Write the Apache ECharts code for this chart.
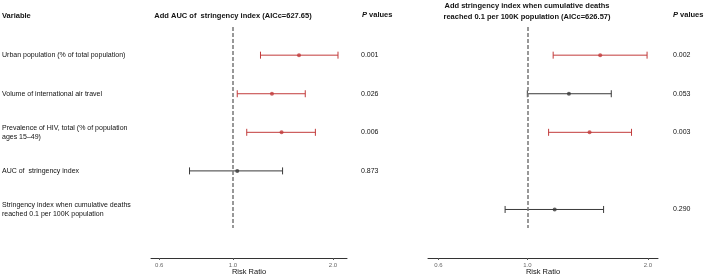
<!DOCTYPE html>
<html>
<head>
<meta charset="utf-8">
<script src="https://cdn.jsdelivr.net/npm/echarts@6/dist/echarts.min.js"></script>
<style>
  html, body { margin: 0; padding: 0; background: #fff; }
  #forest { width: 706px; height: 276px; }
</style>
</head>
<body>
<div id="forest"></div>
<script>
var variables = [
    'Urban population (% of total population)',
    'Volume of international air travel',
    'Prevalence of HIV, total (% of population\nages 15\u201349)',
    'AUC of  stringency index',
    'Stringency index when cumulative deaths\nreached 0.1 per 100K population'
];

// left model: add AUC of stringency index
var leftRR = [1.58, 1.31, 1.40, 1.03, null];
var leftLo = [1.21, 1.03, 1.10, 0.74, null];
var leftHi = [2.07, 1.65, 1.77, 1.41, null];
var leftP  = ['0.001', '0.026', '0.006', '0.873', ''];

// right model: add stringency index when deaths reached 0.1/100K
var rightRR = [1.52, 1.27, 1.43, null, 1.17];
var rightLo = [1.16, 1.00, 1.13, null, 0.88];
var rightHi = [1.99, 1.62, 1.82, null, 1.55];
var rightP  = ['0.002', '0.053', '0.003', '', '0.290'];

var tickValues = [0.6, 1.0, 2.0];

var RED = '#c23b3b';
var DARK = '#3a3a3a';
var FONT = 'Liberation Sans';

function colorFor(p) {
    return parseFloat(p) < 0.05 ? RED : DARK;
}

function barData(rr, lo, hi, p) {
    var out = [];
    for (var i = 0; i < rr.length; i++) {
        if (rr[i] == null) continue;
        out.push({
            value: [Math.log(lo[i]), Math.log(hi[i]), Math.log(rr[i]), i + 1],
            itemStyle: { color: colorFor(p[i]) }
        });
    }
    return out;
}

function pointData(rr, p) {
    var out = [];
    for (var i = 0; i < rr.length; i++) {
        if (rr[i] == null) continue;
        out.push({ value: [Math.log(rr[i]), i + 1], itemStyle: { color: colorFor(p[i]) } });
    }
    return out;
}

function renderBar(params, api) {
    var y = api.value(3);
    var a = api.coord([api.value(0), y]);
    var b = api.coord([api.value(1), y]);
    var c = api.visual('color');
    var cap = 3.5;
    var st = { stroke: c, lineWidth: 1 };
    return {
        type: 'group',
        children: [
            { type: 'line', shape: { x1: a[0], y1: a[1], x2: b[0], y2: b[1] }, style: st },
            { type: 'line', shape: { x1: a[0], y1: a[1] - cap, x2: a[0], y2: a[1] + cap }, style: st },
            { type: 'line', shape: { x1: b[0], y1: b[1] - cap, x2: b[0], y2: b[1] + cap }, style: st }
        ]
    };
}

var rows = [1, 2, 3, 4, 5];
var lnTicks = tickValues.map(function (v) { return Math.log(v); });

function xAxisFor(gridIndex, min, max) {
    return {
        type: 'value', gridIndex: gridIndex, min: min, max: max, offset: 30,
        name: 'Risk Ratio', nameLocation: 'middle', nameGap: 10, nameMoveOverlap: false,
        nameTextStyle: { fontFamily: FONT, fontSize: 7.5, color: '#111' },
        axisLine: { show: true, lineStyle: { color: '#333', width: 1 } },
        axisTick: { show: true, customValues: lnTicks, length: 2, lineStyle: { color: '#555' } },
        axisLabel: {
            customValues: lnTicks, margin: 4, fontFamily: FONT, fontSize: 6, color: '#666',
            formatter: function (v) { return Math.exp(v).toFixed(1); }
        },
        splitLine: { show: false }
    };
}

function yAxisFor(gridIndex, position, labels, margin, fontSize) {
    return {
        type: 'value', gridIndex: gridIndex, position: position, inverse: true,
        min: 0.27, max: 5.48,
        axisLine: { show: false }, axisTick: { show: false }, splitLine: { show: false },
        axisLabel: {
            show: labels != null,
            customValues: rows, align: 'left', margin: margin,
            fontFamily: FONT, fontSize: fontSize, color: '#111', lineHeight: 9,
            formatter: function (v) { return labels ? (labels[Math.round(v) - 1] || '') : ''; }
        }
    };
}

var refLine = {
    silent: true, symbol: 'none', label: { show: false },
    lineStyle: { type: [4, 2], color: '#777', width: 1.5 },
    data: [{ xAxis: 0 }]
};

var headStyle = {
    rich: {
        i: { fontFamily: FONT, fontSize: 7.5, fontWeight: 'bold', fontStyle: 'italic', color: '#111' },
        b: { fontFamily: FONT, fontSize: 7.5, fontWeight: 'bold', color: '#111' }
    }
};
var boldText = { fontFamily: FONT, fontSize: 7.5, fontWeight: 'bold', color: '#111', lineHeight: 11 };

var myChart = echarts.init(document.getElementById('forest'), null, { renderer: 'canvas' });

var option = {
    animation: false,
    backgroundColor: '#fff',
    title: [
        { text: 'Variable', left: 2, top: 10, padding: 0, textStyle: boldText },
        {
            text: 'Add AUC of  stringency index (AICc=627.65)', left: 233, top: 10, padding: 0,
            textAlign: 'center', textStyle: boldText
        },
        {
            text: 'Add stringency index when cumulative deaths\nreached 0.1 per 100K population (AICc=626.57)',
            left: 527, top: 0, padding: 0, textAlign: 'center', textStyle: boldText
        },
        { text: '{i|P}{b| values}', left: 362, top: 11, padding: 0, textStyle: headStyle },
        { text: '{i|P}{b| values}', left: 673, top: 11, padding: 0, textStyle: headStyle }
    ],
    grid: [
        { left: 151, width: 196, top: 27, height: 201, containLabel: false, outerBoundsMode: 'none' },
        { left: 428, width: 230, top: 27, height: 201, containLabel: false, outerBoundsMode: 'none' }
    ],
    xAxis: [
        xAxisFor(0, -0.568, 0.790),
        xAxisFor(1, -0.571, 0.751)
    ],
    yAxis: [
        yAxisFor(0, 'left', variables, 149, 7),
        yAxisFor(0, 'right', leftP, 14, 7),
        yAxisFor(1, 'right', rightP, 15, 7)
    ],
    series: [
        {
            type: 'custom', xAxisIndex: 0, yAxisIndex: 0, renderItem: renderBar,
            encode: { x: [0, 1], y: 3 }, data: barData(leftRR, leftLo, leftHi, leftP)
        },
        {
            type: 'scatter', xAxisIndex: 0, yAxisIndex: 0, symbol: 'circle', symbolSize: 4,
            data: pointData(leftRR, leftP), markLine: refLine, z: 3
        },
        {
            type: 'custom', xAxisIndex: 1, yAxisIndex: 2, renderItem: renderBar,
            encode: { x: [0, 1], y: 3 }, data: barData(rightRR, rightLo, rightHi, rightP)
        },
        {
            type: 'scatter', xAxisIndex: 1, yAxisIndex: 2, symbol: 'circle', symbolSize: 4,
            data: pointData(rightRR, rightP), markLine: refLine, z: 3
        }
    ]
};

myChart.setOption(option);
</script>
</body>
</html>
